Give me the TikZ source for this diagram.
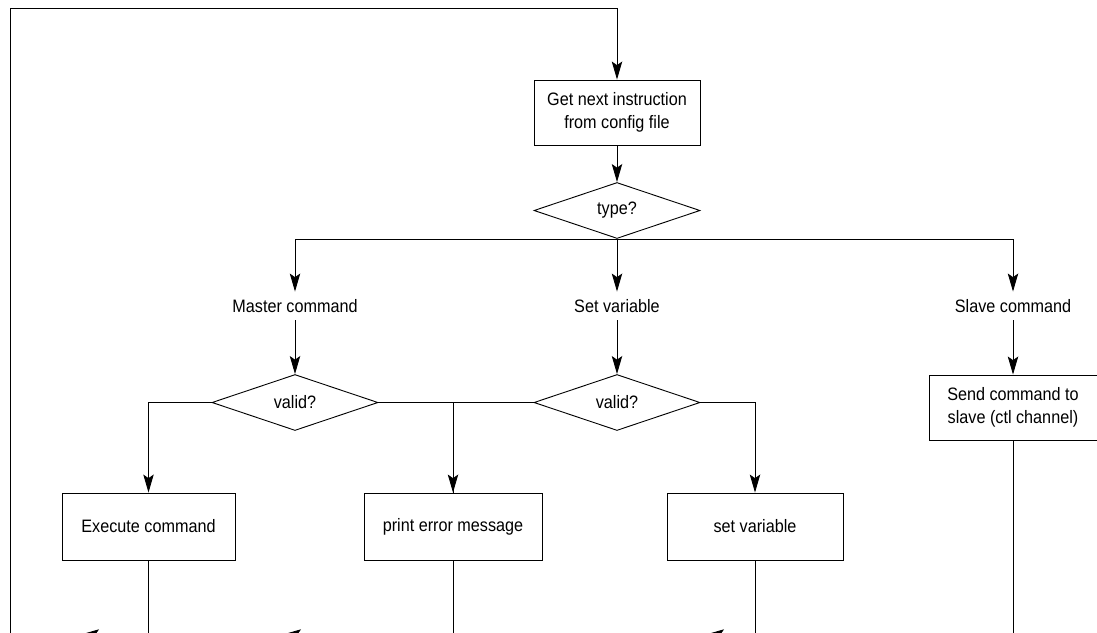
\documentclass[tikz,border=0pt]{standalone}
\usepackage{fontspec}
\setmainfont{Liberation Sans}[FakeStretch=0.9]
\usetikzlibrary{arrows.meta,shapes,calc,positioning}

\begin{document}
\begin{tikzpicture}[x=0.5pt,y=-0.5pt,line width=0.45pt,
  >={Stealth[length=9pt,width=5.2pt,inset=1.8pt]},
  font=\fontsize{9}{11.5}\selectfont,
  box/.style={draw,inner sep=0pt,align=center},
  dec/.style={draw,diamond,inner sep=0pt,minimum width=83pt,minimum height=28pt},
  lbl/.style={inner sep=0pt,minimum height=14pt}]

\useasboundingbox (0,0) rectangle (1097,632);

\coordinate(top) at (617,8);
\coordinate(jL) at (10,634.5);
\coordinate(a1) at (81,634.5);
\coordinate(a2) at (283,634.5);
\coordinate(a3) at (706,634.5);

\node[box, minimum width=83pt, minimum height=32.5pt](get) at (617,112.5) {Get next instruction\\from config file};
\node[dec](type) at (617,210.5) {type?};

\node[lbl](mcmd) at (295,306) {Master command};
\node[lbl](svar) at (617,306) {Set variable};
\node[lbl](scmd) at (1013,306) {Slave command};

\node[dec](valid1) at (295,402.5) {valid?};
\node[dec](valid2) at (617,402.5) {valid?};
\node[box, minimum width=84pt, minimum height=32.5pt](send) at (1013,407.5) {Send command to\\slave (ctl channel)};

\node[box, minimum width=86.5pt, minimum height=33.5pt](exe) at (148.5,526.5) {Execute command};
\node[box, minimum width=89pt, minimum height=33.5pt](err) at (453,526.5) {print error message};
\node[box, minimum width=88pt, minimum height=33.5pt](setv) at (755,526.5) {set variable};

% main flow
\draw[->] (jL) |- (top) -- (get);
\draw[->] (get) -- (type);
\draw[->] (type.south) -| (mcmd);
\draw[->] (type) -- (svar);
\draw[->] (type.south) -| (scmd);
\draw[->] (mcmd) -- (valid1);
\draw[->] (svar) -- (valid2);
\draw[->] (scmd) -- (send);

% valid? branches
\draw[->] (valid1.west) -| (exe);
\draw[->] (valid1.east) -| (err);
\draw (valid2.west) -| (err.north);
\draw[->] (valid2.east) -| (setv);

% back to the loop
\draw (send.south) |- (jL);
\draw[->] (exe.south) |- (a1);
\draw[->] (err.south) |- (a2);
\draw[->] (setv.south) |- (a3);
\end{tikzpicture}
\end{document}
